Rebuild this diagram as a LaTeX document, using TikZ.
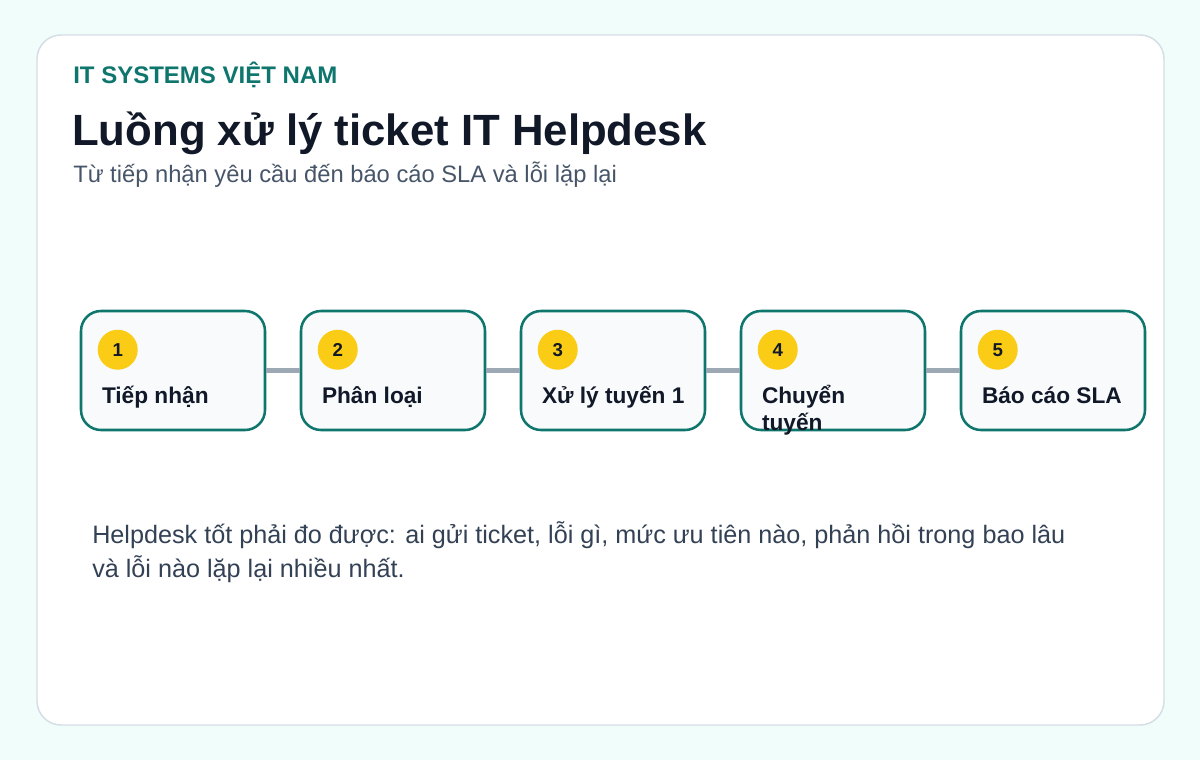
\documentclass[tikz,border=0pt]{standalone}
\usepackage{fontspec}
\setmainfont{Liberation Sans}
\usepackage{tikz}
\usetikzlibrary{positioning}
\definecolor{bgmint}{HTML}{F0FDFA}
\definecolor{cardline}{HTML}{D5DEE6}
\definecolor{tealmain}{HTML}{0F766E}
\definecolor{inkdark}{HTML}{111827}
\definecolor{subgray}{HTML}{475569}
\definecolor{bodygray}{HTML}{334155}
\definecolor{boxfill}{HTML}{F8FAFC}
\definecolor{badge}{HTML}{FACC15}
\definecolor{linkgray}{HTML}{9CA8B4}
\tikzset{
  stepbox/.style={draw=tealmain, line width=1.9pt, fill=boxfill, rounded corners=15pt,
    minimum width=184*0.75pt, minimum height=119*0.75pt, inner sep=0pt},
  badgenode/.style={circle, fill=badge, minimum size=40*0.75pt, inner sep=0pt,
    font=\fontsize{14}{16}\selectfont\bfseries, text=inkdark},
  steplabel/.style={anchor=base west, inner sep=0pt, text=inkdark,
    font=\fontsize{17}{20.25}\selectfont\bfseries},
  link/.style={draw=linkgray, line width=3.2pt}
}
\begin{document}
\begin{tikzpicture}[x=0.75pt,y=-0.75pt]
	\useasboundingbox (0,0) rectangle (1200,760);
	\fill[bgmint] (0,0) rectangle (1200,760); % page background
	\draw[cardline, fill=white, line width=1.1pt, rounded corners=18pt] (37,35) rectangle (1164,725); % card
	% heading
	\node[anchor=base west, inner sep=0pt, text=tealmain, font=\fontsize{18}{21}\selectfont\bfseries] (brand) at (73,83) {IT SYSTEMS VIỆT NAM};
	\node[anchor=base west, inner sep=0pt, text=inkdark, font=\fontsize{32.8}{38}\selectfont\bfseries] (title) at (72,145) {Luồng xử lý ticket IT Helpdesk};
	\node[anchor=base west, inner sep=0pt, text=subgray, font=\fontsize{17.8}{21}\selectfont] (subtitle) at (73,182) {Từ tiếp nhận yêu cầu đến báo cáo SLA và lỗi lặp lại};
	% steps
	\node[stepbox] (intake) at (173,370.5) {};
	\node[stepbox, right=25.1pt of intake] (classify) {};
	\node[stepbox, right=25.1pt of classify] (tierone) {};
	\node[stepbox, right=25.1pt of tierone] (escalate) {};
	\node[stepbox, right=25.1pt of escalate] (report) {};
	\draw[link] (intake) -- (classify);
	\draw[link] (classify) -- (tierone);
	\draw[link] (tierone) -- (escalate);
	\draw[link] (escalate) -- (report);
	\node[badgenode] (n1) at ([xshift=28.5pt,yshift=-30pt]intake.north west) {1};
	\node[badgenode] (n2) at ([xshift=28.5pt,yshift=-30pt]classify.north west) {2};
	\node[badgenode] (n3) at ([xshift=28.5pt,yshift=-30pt]tierone.north west) {3};
	\node[badgenode] (n4) at ([xshift=28.5pt,yshift=-30pt]escalate.north west) {4};
	\node[badgenode] (n5) at ([xshift=28.5pt,yshift=-30pt]report.north west) {5};
	\node[steplabel] (t1) at ([xshift=16.5pt,yshift=-24.5pt]intake.west) {Tiếp nhận};
	\node[steplabel] (t2) at ([xshift=16.5pt,yshift=-24.5pt]classify.west) {Phân loại};
	\node[steplabel] (t3) at ([xshift=16.5pt,yshift=-24.5pt]tierone.west) {Xử lý tuyến 1};
	\node[steplabel] (t4) at ([xshift=16.5pt,yshift=-24.5pt]escalate.west) {\vtop{\hbox{Chuyển}\hbox{tuyến}}};
	\node[steplabel] (t5) at ([xshift=16.5pt,yshift=-24.5pt]report.west) {Báo cáo SLA};
	% footnote
	\node[anchor=base west, align=left, inner sep=0pt, text=bodygray, font=\fontsize{18.9}{25.5}\selectfont] (note) at (92,577) {Helpdesk tốt phải đo được: ai gửi ticket, lỗi gì, mức ưu tiên nào, phản hồi trong bao lâu\\và lỗi nào lặp lại nhiều nhất.};
\end{tikzpicture}
\end{document}
